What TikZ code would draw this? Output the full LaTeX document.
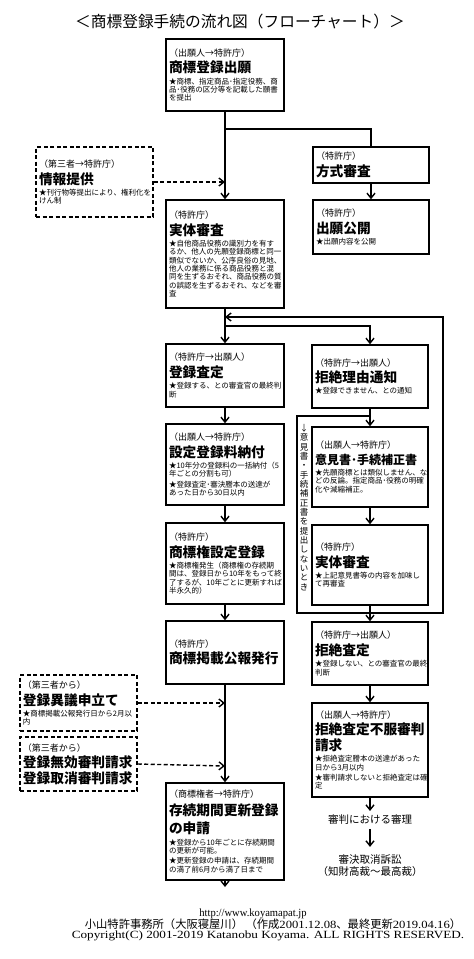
\documentclass[tikz,border=0pt]{standalone}
\usepackage{fontspec}
\usepackage{graphicx}
\setmainfont{Liberation Serif}
\newfontfamily\jp{Noto Sans CJK JP}
\usetikzlibrary{arrows.meta}
\newcommand\who[1]{{\fontsize{9}{11}\selectfont #1\par}}
\newcommand\hd[1]{{\fontsize{13.7}{16.5}\selectfont\bfseries #1\par}}
\newcommand\ds[1]{\vspace{3pt}{#1\par}}
\tikzset{
  box/.style={draw, line width=1.5pt, inner xsep=3pt, inner ysep=2pt, align=left,
    font=\jp\fontsize{7.5}{8.3}\selectfont,
    execute at begin node={\lineskiplimit=-100pt\relax}},
  lbox/.style={box, text width=112pt, minimum height=#1},
  rbox/.style={box, text width=110pt, minimum height=#1},
  dbox/.style={box, dash pattern=on 4pt off 2.5pt, text width=111pt, minimum height=#1},
  conn/.style={line width=1.4pt, -{Straight Barb[length=5pt,width=8pt]}},
  plainline/.style={line width=1.4pt},
  dconn/.style={conn, dash pattern=on 4pt off 2.5pt},
  lbl/.style={font=\jp\fontsize{10.5}{12}\selectfont, align=center},
}
\begin{document}
\begin{tikzpicture}[x=1pt,y=-1pt]
\useasboundingbox (0,0) rectangle (474,959);
\fill[white] (0,0) rectangle (474,959);

\node[font=\jp\fontsize{15.7}{18}\selectfont] (title) at (240,22) {＜商標登録手続の流れ図（フローチャート）＞};

% left column
\node[lbox=72pt] (apply) at (225,75) {\who{（出願人→特許庁）}\hd{商標登録出願}\ds{★商標、指定商品･指定役務、商\\品･役務の区分等を記載した願書\\を提出}};
\node[lbox=108pt] (exam) at (225,254) {\who{（特許庁）}\hd{実体審査}\ds{★自他商品役務の識別力を有す\\るか、他人の先願登録商標と同一\\類似でないか、公序良俗の見地、\\他人の業務に係る商品役務と混\\同を生ずるおそれ、商品役務の質\\の誤認を生ずるおそれ、などを審\\査}};
\node[lbox=63pt] (grant) at (225,375.5) {\who{（特許庁→出願人）}\hd{登録査定}\ds{★登録する、との審査官の最終判\\断}};
\node[lbox=81pt] (pay) at (225,464.5) {\who{（出願人→特許庁）}\hd{設定登録料納付}\ds{★10年分の登録料の一括納付（5\\年ごとの分割も可）\\[2pt]★登録査定･審決謄本の送達が\\あった日から30日以内}};
\node[lbox=81pt] (setreg) at (225,563.5) {\who{（特許庁）}\hd{商標権設定登録}\ds{★商標権発生（商標権の存続期\\間は、登録日から10年をもって終\\了するが、10年ごとに更新すれば\\半永久的）}};
\node[lbox=63pt] (gazette) at (225,652.5) {\who{（特許庁）}\hd{商標掲載公報発行}};
\node[lbox=97pt] (renew) at (225,831.5) {\who{（商標権者→特許庁）}{\fontsize{13.7}{18}\selectfont\bfseries 存続期間更新登録\\の申請\par}\ds{★登録から10年ごとに存続期間\\の更新が可能。\\[2pt]★更新登録の申請は、存続期間\\の満了前6月から満了日まで}};

% right column
\node[rbox=36pt] (form) at (371,165) {\who{（特許庁）}\hd{方式審査}};
\node[rbox=54pt] (pub) at (371,227) {\who{（特許庁）}\hd{出願公開}\ds{★出願内容を公開}};
\node[rbox=63pt] (reason) at (370,376.5) {\who{（特許庁→出願人）}\hd{拒絶理由通知}\ds{★登録できません、との通知}};
\node[rbox=80pt] (opinion) at (370,467) {\who{（出願人→特許庁）}{\fontsize{12}{15.5}\selectfont\bfseries 意見書･手続補正書\par}\ds{★先願商標とは類似しません、な\\どの反論。指定商品･役務の明確\\化や減縮補正。}};
\node[rbox=80pt] (exam2) at (370,565) {\who{（特許庁）}\hd{実体審査}\ds{★上記意見書等の内容を加味し\\て再審査}};
\node[rbox=63pt] (reject) at (370,653.5) {\who{（特許庁→出願人）}\hd{拒絶査定}\ds{★登録しない、との審査官の最終\\判断}};
\node[rbox=94pt] (appeal) at (370,750) {\who{（出願人→特許庁）}{\fontsize{13.7}{16}\selectfont\bfseries 拒絶査定不服審判\\請求\par}\ds{★拒絶査定謄本の送達があった\\日から3月以内\\[2pt]★審判請求しないと拒絶査定は確\\定}};
\node[lbl, inner ysep=4pt] (trial) at (370,820) {審判における審理};
\node[lbl, inner ysep=8pt] (suit) at (370,866) {審決取消訴訟\\（知財高裁～最高裁）};

% dashed third-party boxes
\node[dbox=70pt] (info) at (94.5,182) {\who{（第三者→特許庁）}\hd{情報提供}\ds{★刊行物等提出により、権利化を\\けん制}};
\node[dbox=56pt] (oppo) at (78.5,703) {\who{（第三者から）}\hd{登録異議申立て}\ds{★商標掲載公報発行日から2月以\\内}};
\node[dbox=54pt] (inval) at (78.5,764) {\who{（第三者から）}{\fontsize{13.7}{16}\selectfont\bfseries 登録無効審判請求\\登録取消審判請求\par}};

% vertical note
\node[font=\jp\fontsize{8.5}{9.35}\selectfont, align=center, inner sep=0pt] (vnote) at (304,507.5) {↓\\意\\見\\書\\・\\手\\続\\補\\正\\書\\を\\提\\出\\し\\な\\い\\と\\き};

% coordinates
\coordinate (b1) at (225,129);
\coordinate (infoend) at (225,182);
\coordinate (b2) at (225,326);
\coordinate (back) at (225,317);
\coordinate (b3) at (370,416);
\coordinate (b3l) at (297,416);
\coordinate (lp1) at (297,613);
\coordinate (lp2) at (443,613);
\coordinate (lp3) at (443,317);
\coordinate (oppend) at (225,703);
\coordinate (invend) at (225,766);
\coordinate (fin) at (225,887);

% connectors
\draw[conn] (apply.south) -- (exam.north);
\draw[plainline] (b1) -| (form.north);
\draw[conn] (form.south) -- (pub.north);
\draw[dconn] (info.east) -- (infoend);
\draw[conn] (exam.south) -- (grant.north);
\draw[conn] (b2) -| (reason.north);
\draw[conn] (reason.south) -- (opinion.north);
\draw[conn] (b3) -- (b3l) -- (lp1) -- (lp2) -- (lp3) -- (back);
\draw[conn] (opinion.south) -- (exam2.north);
\draw[conn] (exam2.south) -- (reject.north);
\draw[conn] (reject.south) -- (appeal.north);
\draw[conn] (appeal.south) -- (trial.north);
\draw[conn] (trial.south) -- (suit.north);
\draw[conn] (grant.south) -- (pay.north);
\draw[conn] (pay.south) -- (setreg.north);
\draw[conn] (setreg.south) -- (gazette.north);
\draw[conn] (gazette.south) -- (renew.north);
\draw[dconn] (oppo.east) -- (oppend);
\draw[dconn] (inval.east) -- (invend);
\draw[conn] (renew.south) -- (fin);

% footer
\node (url) at (253,913.5) {\fontsize{11}{12}\selectfont\scalebox{0.96}[1]{http://www.koyamapat.jp}};
\node (office) at (273,924.5) {\fontsize{11}{12}\selectfont{\jp\fontsize{11.3}{12}\selectfont 小山特許事務所（大阪寝屋川）\ （作成}\scalebox{1.15}[1]{2001.12.08}{\jp\fontsize{11.3}{12}\selectfont 、最終更新}\scalebox{1.15}[1]{2019.04.16}{\jp\fontsize{11.3}{12}\selectfont ）}};
\node (copy) at (268,936) {\fontsize{11}{12}\selectfont\scalebox{1.2}[1]{Copyright(C) 2001-2019 Katanobu Koyama. ALL RIGHTS RESERVED.}};
\end{tikzpicture}
\end{document}
